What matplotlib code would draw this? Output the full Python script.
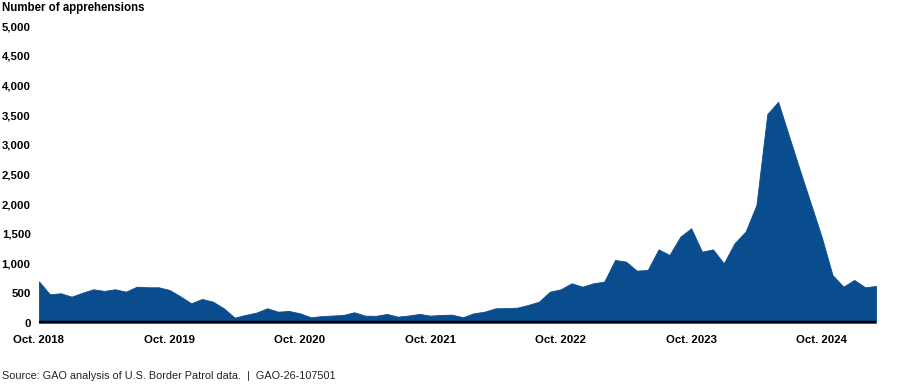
import matplotlib
matplotlib.use("Agg")
import matplotlib.pyplot as plt
import numpy as np

plt.rcParams['font.family'] = ['Liberation Sans', 'DejaVu Sans']

# Monthly apprehensions, Oct. 2018 - Mar. 2025
values = [
    700, 483, 500, 443, 510, 567, 540, 567, 527, 611, 601, 601,   # Oct 2018 - Sep 2019
    556, 450, 331, 404, 359, 247, 90, 135, 174, 247, 190, 202,    # Oct 2019 - Sep 2020
    163, 96, 115, 125, 135, 180, 123, 120, 152, 106, 125, 152,    # Oct 2020 - Sep 2021
    123, 135, 140, 96, 163, 190, 247, 250, 258, 303, 359, 527,    # Oct 2021 - Sep 2022
    567, 668, 611, 668, 696, 1061, 1033, 881, 892, 1240, 1145, 1453,  # Oct 2022 - Sep 2023
    1594, 1200, 1240, 1005, 1346, 1537, 1986, 3518, 3726, 3150, 2576, 2015,  # Oct 2023 - Sep 2024
    1453, 808, 611, 724, 601, 623,                                # Oct 2024 - Mar 2025
]
tick_labels = ["Oct. 2018", "Oct. 2019", "Oct. 2020", "Oct. 2021", "Oct. 2022", "Oct. 2023", "Oct. 2024"]
y_ticks = [0, 500, 1000, 1500, 2000, 2500, 3000, 3500, 4000, 4500, 5000]

x = np.arange(len(values))

fig = plt.figure(figsize=(9, 3.84), dpi=100)
ax = fig.add_axes([0.0433, 0.159, 0.930, 0.773])
ax.fill_between(x, values, 0, color="#0a4d8f", linewidth=0.6, edgecolor="#0a4d8f")
ax.axhline(0, color="black", linewidth=3.2, zorder=5)

ax.set_xlim(0, len(values) - 1)
ax.set_ylim(0, 5000)
ax.set_xticks([12 * i for i in range(len(tick_labels))])
ax.set_xticklabels(tick_labels, fontsize=8.2, fontweight="bold")
ax.set_yticks(y_ticks)
ax.set_yticklabels([f"{v:,}" for v in y_ticks], fontsize=8.2, fontweight="bold")
ax.tick_params(axis="both", length=0)
ax.tick_params(axis="x", pad=9)
ax.tick_params(axis="y", pad=6)
for s in ax.spines.values():
    s.set_visible(False)

fig.text(0.002, 0.995, "Number of apprehensions", fontsize=8.3, fontweight="bold", va="top", ha="left")
fig.text(0.002, 0.022, "Source: GAO analysis of U.S. Border Patrol data.  |  GAO-26-107501",
         fontsize=7.85, va="center", ha="left", color="#222222")

fig.savefig("out.png", dpi=100)
